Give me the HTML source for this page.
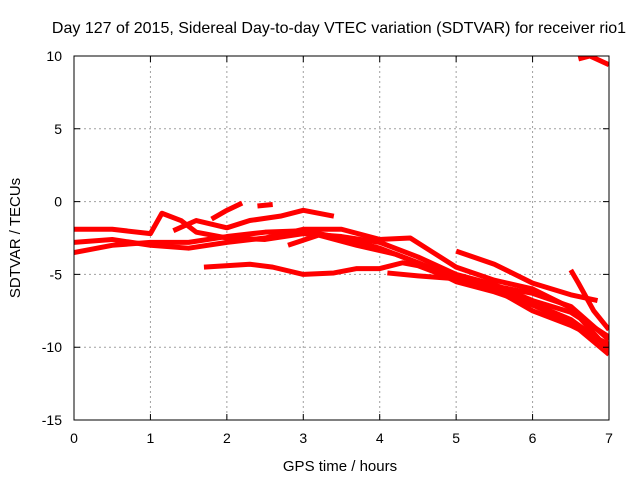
<!DOCTYPE html>
<html><head><meta charset="utf-8"><style>
body{margin:0;background:#fff}
svg{display:block;font-family:"Liberation Sans",sans-serif}
</style></head><body>
<svg id="chart" width="640" height="480" viewBox="0 0 640 480">
<defs><clipPath id="pc"><rect x="74" y="56" width="535" height="364"/></clipPath></defs>
<text x="339" y="33" font-size="16" text-anchor="middle" fill="#000">Day 127 of 2015, Sidereal Day-to-day VTEC variation (SDTVAR) for receiver rio1</text>
<g id="grid"></g>
<g id="series" clip-path="url(#pc)"></g>
<rect x="74" y="56" width="535" height="364" fill="none" stroke="#000" stroke-width="1"/>
<g id="ticks"></g>
<text x="340" y="471" font-size="15" text-anchor="middle">GPS time / hours</text>
<text transform="translate(20,238) rotate(-90)" font-size="15" text-anchor="middle">SDTVAR / TECUs</text>
</svg>
<script>
const xTicks=[0,1,2,3,4,5,6,7];
const yTicks=[10,5,0,-5,-10,-15];
const s1=[[0,-1.9],[0.5,-1.9],[1,-2.2],[1.15,-0.8],[1.4,-1.3],[1.6,-2.1],[2,-2.5],[2.5,-2.6],[3,-2.2],[3.5,-2.4],[4,-2.8],[4.5,-3.8],[5,-5],[5.5,-5.7],[6,-6.8],[6.5,-7.6],[7,-9.3]];
const s2=[[0,-2.8],[0.5,-2.6],[1,-3.0],[1.5,-3.2],[2,-2.8],[2.5,-2.5],[3,-1.9],[3.5,-1.9],[4,-2.6],[4.4,-2.5],[4.7,-3.5],[5,-4.5],[5.5,-5.4],[6,-6],[6.5,-7.3],[7,-10.2]];
const s3=[[0,-3.5],[0.5,-3.0],[1,-2.8],[1.5,-2.8],[2,-2.4],[2.5,-2.1],[3,-2.0],[3.5,-2.5],[4,-3.2],[4.5,-4.2],[5,-5.5],[5.5,-6.2],[6,-7.1],[6.5,-8.3],[7,-10.5]];
const s4=[[1.3,-2],[1.6,-1.3],[2,-1.8],[2.3,-1.3],[2.7,-1.0],[3,-0.6],[3.4,-1.0]];
const s5=[[1.8,-1.2],[2.0,-0.6],[2.2,-0.1]];
const s6=[[2.4,-0.3],[2.6,-0.2]];
const s7=[[1.7,-4.5],[2.3,-4.3],[2.6,-4.5],[3,-5],[3.4,-4.9],[3.7,-4.6],[4,-4.6],[4.3,-4.2],[4.5,-4.4],[5,-5.4],[5.5,-5.8],[6,-6.3],[6.5,-7.2],[7,-9.5]];
const s8=[[2.8,-3],[3.2,-2.3],[3.7,-3.0],[4.2,-3.6],[5,-5.2],[5.5,-6],[6,-7.5],[6.5,-8.5],[7,-9.8]];
const s9=[[5,-3.4],[5.5,-4.3],[6,-5.6],[6.5,-6.4],[6.85,-6.8]];
const s10=[[6.6,9.8],[6.75,10.0],[7,9.4]];
const s11=[[4.1,-4.9],[4.5,-5.1],[5,-5.3],[5.5,-6],[6,-7],[6.5,-8.1],[7,-10]];
const s12=[[6.5,-4.7],[6.6,-5.6],[6.8,-7.5],[7,-8.8]];
const allSeries=[s1,s2,s3,s4,s5,s6,s7,s8,s9,s10,s11,s12];
const NS='http://www.w3.org/2000/svg';
const X0=74,X1=609,Y0=420,Y1=56;
const xs=h=>X0+(h-0)/7*(X1-X0);
const ys=v=>Y0-(v+15)/25*(Y0-Y1);
function mk(tag,attrs,parent){const e=document.createElementNS(NS,tag);for(const k in attrs)e.setAttribute(k,attrs[k]);parent.appendChild(e);return e;}
const grid=document.getElementById('grid'),ticks=document.getElementById('ticks'),ser=document.getElementById('series');
xTicks.forEach(t=>{const x=xs(t);
 if(t>0&&t<7){const l=mk('line',{x1:x,x2:x,y1:Y1,y2:Y0,stroke:'#a0a0a0','stroke-dasharray':'2,3'},grid);
 
 }
 const tk=mk('path',{d:`M${x},${Y0}v-6M${x},${Y1}v6`,stroke:'#000'},ticks);
 
 
 const tx=mk('text',{x:x,y:443,'font-size':14,'text-anchor':'middle'},ticks);tx.textContent=t;
 
 });
yTicks.forEach(t=>{const y=ys(t);
 if(t<10&&t>-15){const l=mk('line',{x1:X0,x2:X1,y1:y,y2:y,stroke:'#a0a0a0','stroke-dasharray':'2,3'},grid);
 
 }
 const tk=mk('path',{d:`M${X0},${y}h6M${X1},${y}h-6`,stroke:'#000'},ticks);
 
 
 const tx=mk('text',{x:62,y:y+5,'font-size':14,'text-anchor':'end'},ticks);tx.textContent=t;
 
 });
allSeries.forEach((s,i)=>{const p=mk('polyline',{points:s.map(d=>xs(d[0])+','+ys(d[1])).join(' '),fill:'none',stroke:'#ff0000','stroke-width':5,'stroke-linejoin':'round'},ser);
 
 });
</script>
</body></html>
